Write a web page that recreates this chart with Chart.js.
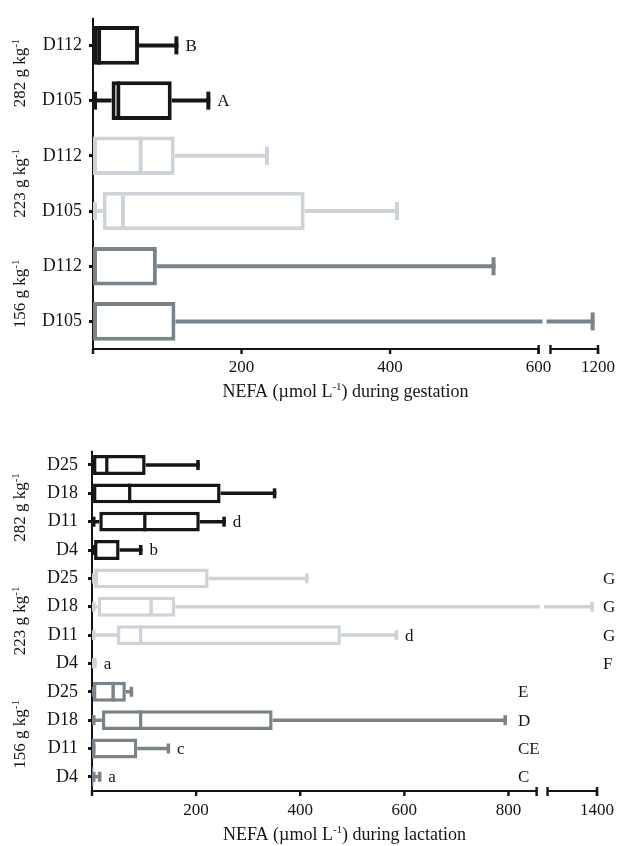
<!DOCTYPE html>
<html>
<head>
<meta charset="utf-8">
<script src="https://cdn.jsdelivr.net/npm/chart.js@4.4.1/dist/chart.umd.min.js"></script>
<style>
  html, body { margin: 0; padding: 0; background: #fff; }
  .panel { position: absolute; left: 0; width: 623px; }
  #gestation-wrap { top: 0; height: 415px; }
  #lactation-wrap { top: 430px; height: 416px; }
</style>
</head>
<body>
<div class="panel" id="gestation-wrap"><canvas id="gestation-chart"></canvas></div>
<div class="panel" id="lactation-wrap"><canvas id="lactation-chart"></canvas></div>
<script>
// gestation panel (top to bottom)
const GEST_LABELS = ['D112', 'D105', 'D112', 'D105', 'D112', 'D105'];
const GEST_GROUPS = ['282', '282', '223', '223', '156', '156'];
const GEST_MIN = [0, 0, 0, 0, 0, 0];
const GEST_Q1 = [0, 25, 0, 13, 0, 0];
const GEST_MEDIAN = [11, 37, 67, 43, 5, 2];
const GEST_Q3 = [62, 106, 110, 285, 86, 111];
const GEST_MAX = [115, 158, 237, 412, 542, 1195];
const GEST_LETTERS = ['B', 'A', '', '', '', ''];
const GEST_TICKS = [200, 400, 600, 1200];

// lactation panel (top to bottom)
const LACT_LABELS = ['D25', 'D18', 'D11', 'D4', 'D25', 'D18', 'D11', 'D4', 'D25', 'D18', 'D11', 'D4'];
const LACT_GROUPS = ['282', '282', '282', '282', '223', '223', '223', '223', '156', '156', '156', '156'];
const LACT_MIN = [0, 0, 0, 0, 0, 0, 0, 0, 0, 0, 0, 0];
const LACT_Q1 = [2, 2, 14, 4, 4, 11, 48, 0, 2, 19, 0, 0];
const LACT_MEDIAN = [32, 76, 105, 8, 12, 117, 97, 0, 44, 97, 3, 0];
const LACT_Q3 = [103, 247, 207, 53, 224, 160, 478, 0, 65, 347, 87, 3];
const LACT_MAX = [207, 354, 257, 97, 416, 1395, 588, 9, 79, 797, 150, 18];
const LACT_LETTERS = ['', '', 'd', 'b', '', '', 'd', 'a', '', '', 'c', 'a'];
const LACT_COLUMN_LETTERS = ['', '', '', '', 'G', 'G', 'G', 'F', 'E', 'D', 'CE', 'C'];
const LACT_TICKS = [200, 400, 600, 800, 1400];

const SERIF = '"Liberation Serif", "Times New Roman", serif';
const INK = '#141414';
const GROUP_COLORS = { '282': '#161616', '223': '#cdd3d8', '156': '#7a8389' };
const COLUMN_X = { '223': 603, '156': 518 };

// broken x axes: linear up to the cut, a gap, then a squeezed stretch
function brokenAxis(cut, gap, resume, squeeze) {
  return v => v <= cut ? v : cut + gap + (v - resume) * squeeze;
}
const gestX = brokenAxis(600, 16, 1130, 64 / 70);
const lactX = brokenAxis(854, 21, 1320, 95 / 80);

function drawSupText(ctx, parts, x, y, size) {
  // parts = [before, superscript, after]; x is the centre, y the baseline
  const supSize = Math.round(size * 0.62);
  const widths = parts.map((t, i) => {
    ctx.font = `${i === 1 ? supSize : size}px ${SERIF}`;
    return ctx.measureText(t).width;
  });
  let cx = x - widths.reduce((s, w) => s + w, 0) / 2;
  parts.forEach((t, i) => {
    ctx.font = `${i === 1 ? supSize : size}px ${SERIF}`;
    ctx.fillText(t, cx, i === 1 ? y - size * 0.38 : y);
    cx += widths[i];
  });
}

function makeDecor(p) {
  return {
    id: 'panelDecor',
    beforeDatasetsDraw(chart) {
      const { ctx, chartArea: a } = chart;
      ctx.save();
      ctx.fillStyle = INK;
      ctx.fillRect(a.left - 1, a.top, 2, a.bottom - a.top);
      ctx.restore();
    },
    afterDatasetsDraw(chart) {
      const { ctx, chartArea: a, scales: { x, y } } = chart;
      ctx.save();
      // gap in whiskers that cross the break
      const gapMid = (x.getPixelForValue(p.cut) + x.getPixelForValue(p.cut + p.gap)) / 2;
      ctx.fillStyle = '#fff';
      ctx.fillRect(gapMid - 2, a.top, 4, a.bottom - a.top - 4);
      // whisker caps
      p.max.forEach((hi, i) => {
        const yc = y.getPixelForValue(i);
        const lo = x.getPixelForValue(p.tf(p.min[i]));
        const hx = x.getPixelForValue(p.tf(hi));
        ctx.fillStyle = GROUP_COLORS[p.groups[i]];
        ctx.fillRect(lo, yc - p.capH / 2, p.capW, p.capH);
        ctx.fillRect(hx - p.capW, yc - p.capH / 2, p.capW, p.capH);
      });
      // significance letters
      ctx.fillStyle = INK;
      ctx.font = `17px ${SERIF}`;
      ctx.textBaseline = 'middle';
      ctx.textAlign = 'left';
      p.letters.forEach((t, i) => {
        if (t) ctx.fillText(t, x.getPixelForValue(p.tf(p.max[i])) + 7, y.getPixelForValue(i) + 1);
      });
      p.columnLetters.forEach((t, i) => {
        if (t) ctx.fillText(t, COLUMN_X[p.groups[i]], y.getPixelForValue(i) + 1);
      });
      ctx.restore();
    },
    afterDraw(chart) {
      const { ctx, chartArea: a, scales: { x, y } } = chart;
      const yA = a.bottom;
      const xCut = x.getPixelForValue(p.cut);
      const xRes = x.getPixelForValue(p.cut + p.gap);
      ctx.save();
      ctx.fillStyle = INK;
      ctx.fillRect(a.left - 1, yA - 1, xCut - a.left + 1, 2);
      ctx.fillRect(xRes, yA - 1, a.right - xRes, 2);
      [0, ...p.ticks.map(p.tf)].forEach(v => {
        const px = x.getPixelForValue(v);
        ctx.fillRect(px - 1.2, yA - 1, 2.4, 6);
      });
      [p.cut, p.cut + p.gap, p.tf(p.ticks[p.ticks.length - 1])].forEach(v => {
        const px = x.getPixelForValue(v);
        ctx.fillRect(px - 1.2, yA - 4, 2.4, 9);
      });
      // axis title
      ctx.textAlign = 'left';
      ctx.textBaseline = 'alphabetic';
      drawSupText(ctx, ['NEFA (\u00b5mol L', '-1', ') during ' + p.phase], (a.left + a.right) / 2, p.titleY, 18);
      // rotated diet labels
      ['282', '223', '156'].forEach(g => {
        const rows = p.groups.map((gg, i) => gg === g ? y.getPixelForValue(i) : null).filter(v => v !== null);
        const cy = rows.reduce((s, v) => s + v, 0) / rows.length;
        ctx.save();
        ctx.translate(25, cy);
        ctx.rotate(-Math.PI / 2);
        drawSupText(ctx, [g + ' g kg', '-1', ''], 0, 0, 17);
        ctx.restore();
      });
      ctx.restore();
    }
  };
}

function buildPanel(canvasId, p) {
  const colors = p.groups.map(g => GROUP_COLORS[g]);
  const pairs = (lo, hi) => lo.map((v, i) => [p.tf(v), p.tf(hi[i])]);
  new Chart(document.getElementById(canvasId), {
    type: 'bar',
    data: {
      labels: p.labels,
      datasets: [
        {
          label: 'median',
          data: pairs(p.q1, p.median),
          backgroundColor: 'rgba(0,0,0,0)',
          borderColor: colors,
          borderWidth: { top: 0, right: p.boxLine, bottom: 0, left: 0 },
          borderSkipped: false,
          barPercentage: 0.7,
          categoryPercentage: 1,
          order: 1
        },
        {
          label: 'box',
          data: pairs(p.q1, p.q3),
          backgroundColor: '#fff',
          borderColor: colors,
          borderWidth: p.boxLine,
          borderSkipped: false,
          barPercentage: 0.7,
          categoryPercentage: 1,
          order: 2
        },
        {
          label: 'lower whisker',
          data: pairs(p.min, p.q1),
          backgroundColor: colors,
          borderWidth: 0,
          barThickness: p.whisker,
          order: 3
        },
        {
          label: 'upper whisker',
          data: pairs(p.q3, p.max),
          backgroundColor: colors,
          borderWidth: 0,
          barThickness: p.whisker,
          order: 3
        }
      ]
    },
    options: {
      indexAxis: 'y',
      responsive: true,
      maintainAspectRatio: false,
      animation: false,
      datasets: { bar: { grouped: false, inflateAmount: 0 } },
      layout: { padding: { top: p.padTop, right: 22, bottom: 0, left: p.padLeft } },
      plugins: { legend: { display: false }, tooltip: { enabled: false } },
      scales: {
        x: {
          type: 'linear',
          min: 0,
          max: p.tf(p.ticks[p.ticks.length - 1]),
          afterFit: s => { s.height = p.xHeight; },
          afterBuildTicks: s => { s.ticks = p.ticks.map(t => ({ value: p.tf(t) })); },
          ticks: {
            autoSkip: false,
            maxRotation: 0,
            padding: p.tickPad,
            color: INK,
            font: { family: SERIF, size: 17 },
            callback: v => {
              const t = p.ticks.find(t => Math.abs(p.tf(t) - v) < 1e-6);
              return t === undefined ? '' : String(t);
            }
          },
          grid: { display: false, drawTicks: false },
          border: { display: false }
        },
        y: {
          afterFit: s => { s.width = 60; },
          ticks: { color: INK, padding: p.labelPad, font: { family: SERIF, size: 18 } },
          grid: { drawOnChartArea: false, offset: false, tickLength: 4, lineWidth: 3, color: INK },
          border: { display: false }
        }
      }
    },
    plugins: [makeDecor(p)]
  });
}

buildPanel('gestation-chart', {
  phase: 'gestation',
  labels: GEST_LABELS, groups: GEST_GROUPS,
  min: GEST_MIN, q1: GEST_Q1, median: GEST_MEDIAN, q3: GEST_Q3, max: GEST_MAX,
  letters: GEST_LETTERS, columnLetters: GEST_LABELS.map(() => ''),
  ticks: GEST_TICKS, tf: gestX, cut: 600, gap: 16,
  boxLine: 4, whisker: 4, capW: 4, capH: 18,
  padTop: 14, padLeft: 33, xHeight: 66, tickPad: 8, labelPad: 7, titleY: 397
});

buildPanel('lactation-chart', {
  phase: 'lactation',
  labels: LACT_LABELS, groups: LACT_GROUPS,
  min: LACT_MIN, q1: LACT_Q1, median: LACT_MEDIAN, q3: LACT_Q3, max: LACT_MAX,
  letters: LACT_LETTERS, columnLetters: LACT_COLUMN_LETTERS,
  ticks: LACT_TICKS, tf: lactX, cut: 854, gap: 21,
  boxLine: 3.5, whisker: 3.5, capW: 3.5, capH: 10,
  padTop: 18, padLeft: 32, xHeight: 55, tickPad: 9, labelPad: 10, titleY: 410
});
</script>
</body>
</html>
